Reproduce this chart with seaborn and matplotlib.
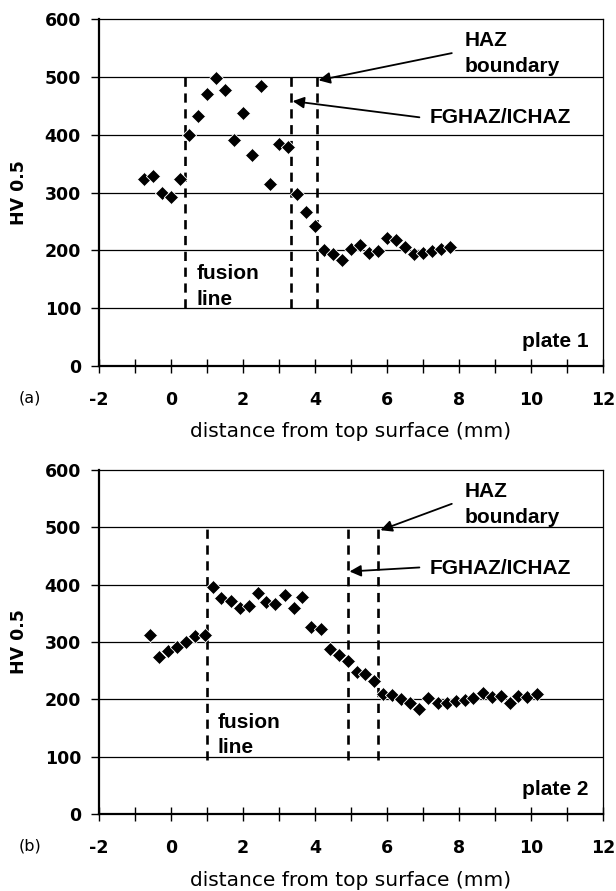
import pandas as pd
import seaborn as sns
import matplotlib.pyplot as plt

# hardness profiles
plate1_x = [-0.75, -0.5, -0.25, 0.0, 0.25, 0.5, 0.75, 1.0, 1.25, 1.5, 1.75, 2.0,
            2.25, 2.5, 2.75, 3.0, 3.25, 3.5, 3.75, 4.0, 4.25, 4.5, 4.75, 5.0,
            5.25, 5.5, 5.75, 6.0, 6.25, 6.5, 6.75, 7.0, 7.25, 7.5, 7.75]
plate1_hv = [323, 329, 299, 293, 323, 400, 432, 470, 498, 477, 391, 438,
             365, 485, 315, 383, 379, 297, 267, 242, 201, 194, 184, 202,
             209, 196, 199, 222, 218, 205, 193, 195, 199, 202, 206]

plate2_x = [-0.58, -0.33, -0.08, 0.17, 0.41, 0.68, 0.94, 1.17, 1.40, 1.66, 1.91,
            2.17, 2.42, 2.65, 2.90, 3.16, 3.41, 3.65, 3.90, 4.16, 4.41, 4.66,
            4.91, 5.16, 5.40, 5.65, 5.90, 6.14, 6.39, 6.64, 6.90, 7.15, 7.41,
            7.66, 7.92, 8.17, 8.40, 8.66, 8.91, 9.17, 9.41, 9.65, 9.90, 10.16]
plate2_hv = [312, 273, 285, 291, 300, 310, 312, 396, 376, 372, 360,
             363, 386, 369, 367, 382, 360, 379, 327, 323, 288, 277,
             267, 248, 244, 232, 209, 207, 200, 194, 184, 202, 193,
             194, 197, 199, 202, 211, 204, 205, 193, 205, 204, 209]

# fusion line, FGHAZ/ICHAZ, HAZ boundary
plate1_lines = [0.40, 3.34, 4.06]
plate2_lines = [1.00, 4.91, 5.74]

y_ticks = [0, 100, 200, 300, 400, 500, 600]
x_ticks = [-2, 0, 2, 4, 6, 8, 10, 12]

sns.set_theme(style="white")
plt.rcParams['font.family'] = ['DejaVu Sans']
plt.rcParams['axes.unicode_minus'] = False
for key in ['text.color', 'axes.labelcolor', 'xtick.color', 'ytick.color']:
    plt.rcParams[key] = 'black'

ann_font = ['Liberation Sans', 'DejaVu Sans']


def draw_plate(ax, xs, hv, lines, plate_name, fusion_pos, line_bottom,
               haz_head, fg_head):
    df = pd.DataFrame({'x': xs, 'hv': hv})
    sns.scatterplot(data=df, x='x', y='hv', ax=ax, marker='D', s=52,
                    color='black', edgecolor='white', linewidth=0.6, zorder=3)
    ax.set_xlim(-2, 12)
    ax.set_ylim(0, 600)
    ax.set_xticks(x_ticks)
    ax.set_xticks(range(-2, 13), minor=True)
    ax.set_yticks(y_ticks)
    for y in y_ticks[1:-1]:
        ax.axhline(y, color='black', lw=0.9, zorder=1)
    ax.vlines(lines, line_bottom, 500, colors='black', lw=1.9,
              linestyles=(0, (3.5, 2.5)), zorder=2)

    for side in ['left', 'bottom']:
        ax.spines[side].set_linewidth(1.6)
        ax.spines[side].set_color('black')
    for side in ['top', 'right']:
        ax.spines[side].set_linewidth(0.9)
        ax.spines[side].set_color('black')

    ax.tick_params(axis='y', which='major', direction='out', length=6,
                   width=1, left=True, labelsize=12.5, pad=7)
    ax.tick_params(axis='x', which='both', direction='inout', length=10,
                   width=1, bottom=True, labelsize=12.5, pad=13)
    for lab in ax.get_xticklabels() + ax.get_yticklabels():
        lab.set_fontweight('bold')

    ax.set_ylabel('HV 0.5', fontsize=12.5, fontweight='bold')
    ax.yaxis.set_label_coords(-0.14, 0.5)
    ax.set_xlabel('distance from top surface (mm)', fontsize=14.5, va='center')

    # annotations
    txt = dict(fontsize=15, family=ann_font, fontweight='bold')
    ax.text(fusion_pos, 160, 'fusion', ha='left', va='center', **txt)
    ax.text(fusion_pos, 99, 'line', ha='left', va='bottom', **txt)
    ax.text(11.6, 42, plate_name, ha='right', va='center', **txt)
    ax.text(8.15, 563, 'HAZ', ha='left', va='center', **txt)
    ax.text(8.15, 518, 'boundary', ha='left', va='center', **txt)
    ax.text(7.18, 429, 'FGHAZ/ICHAZ', ha='left', va='center', **txt)
    arrow = dict(arrowstyle='-|>', color='black', lw=1.3,
                 mutation_scale=17, shrinkA=0, shrinkB=0)
    ax.annotate('', xy=haz_head, xytext=(7.8, 541), arrowprops=arrow)
    ax.annotate('', xy=fg_head, xytext=(6.9, 430), arrowprops=arrow)


fig = plt.figure(figsize=(6.16, 8.91), dpi=100)
ax1 = fig.add_axes([99 / 616, 1 - 366 / 891, 504 / 616, 347 / 891])
ax2 = fig.add_axes([99 / 616, 1 - 814 / 891, 504 / 616, 344 / 891])

draw_plate(ax1, plate1_x, plate1_hv, plate1_lines, 'plate 1', 0.72, 100,
           (4.1, 494), (3.38, 458))
draw_plate(ax2, plate2_x, plate2_hv, plate2_lines, 'plate 2', 1.3, 94,
           (5.82, 495), (4.96, 423))

ax1.xaxis.set_label_coords(0.5, -0.19)
ax2.xaxis.set_label_coords(0.5, -0.193)

fig.text(30 / 616, 1 - 398 / 891, '(a)', fontsize=11.5, ha='center', va='center')
fig.text(30 / 616, 1 - 846 / 891, '(b)', fontsize=11.5, ha='center', va='center')

fig.savefig('out.png', dpi=100, facecolor='white')
